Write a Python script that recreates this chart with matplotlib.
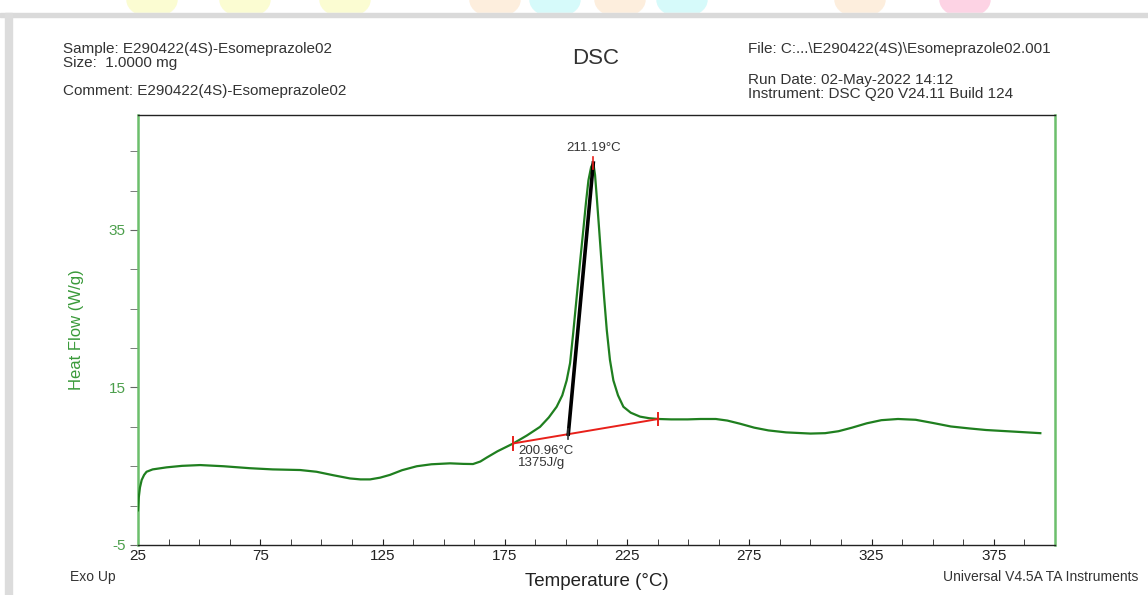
import numpy as np
import matplotlib
matplotlib.use("Agg")
import matplotlib.pyplot as plt
from matplotlib.patches import Rectangle, Ellipse
from matplotlib.ticker import MultipleLocator, FixedLocator

plt.rcParams['font.family'] = ['Liberation Sans', 'DejaVu Sans']
plt.rcParams['axes.unicode_minus'] = False

# DSC curve: temperature (°C) and heat flow (W/g)
temp = [25.0, 25.3, 25.8, 26.5, 27.5, 28.5, 31, 36.7, 43, 50.4, 60, 70.8, 80, 91.3,
        98, 105, 111.7, 116, 119.9, 124, 128, 133, 139, 145, 152.6, 158, 162, 165,
        167.6, 172, 178.5, 184, 189.4, 193, 196.2, 198.5, 200.3, 201.7, 203, 204.4,
        205.8, 207.1, 208.2, 209.2, 210.3, 211.2, 211.9, 212.6, 213.6, 214.6, 215.6,
        216.7, 218, 219.4, 221.3, 223.5, 226.5, 230.3, 234, 237.8, 243, 249.8, 255,
        261.3, 266, 271.2, 277, 282.8, 290, 300, 306, 311.5, 317, 323, 329, 335.8,
        343, 350, 357.4, 365, 371.8, 383, 394]
heat_flow = [-0.6, 1.0, 2.3, 3.25, 3.9, 4.3, 4.6, 4.86, 5.05, 5.15, 5.0, 4.75, 4.6, 4.52,
             4.3, 3.85, 3.45, 3.33, 3.33, 3.55, 3.9, 4.5, 5.0, 5.25, 5.37, 5.3, 5.28, 5.6,
             6.1, 6.9, 7.9, 8.9, 10.0, 11.2, 12.55, 14.0, 15.9, 18.1, 22.0, 26.5,
             31.0, 35.0, 38.5, 41.3, 43.0, 43.5, 42.0, 39.2, 35.0, 30.7, 26.5,
             22.3, 18.5, 15.9, 14.0, 12.55, 11.8, 11.3, 11.1, 11.0, 10.95, 10.95, 11.0,
             11.0, 10.8, 10.4, 9.9, 9.55, 9.3, 9.15, 9.2, 9.45, 9.9, 10.45, 10.85, 11.0,
             10.9, 10.5, 10.05, 9.8, 9.6, 9.4, 9.2]

# peak integration
baseline_t = [178.5, 237.8]
baseline_hf = [7.9, 11.0]
onset_t, onset_hf = 200.96, 9.07
peak_t, peak_hf = 211.19, 43.5
enthalpy = "1375J/g"

x_labels = [25, 75, 125, 175, 225, 275, 325, 375]
y_labels = [-5, 15, 35]

W, H = 1148, 595
fig = plt.figure(figsize=(W / 100, H / 100), dpi=100)

# page frame and faint watermark at the top
wm = [(152, '#fbfcd2'), (245, '#fbfcd2'), (345, '#fbfcd2'), (495, '#fdeedd'),
      (555, '#d6fafa'), (620, '#fdeedd'), (682, '#d6fafa'), (860, '#fdeedd'),
      (965, '#fdd3e4')]
for cx, c in wm:
    fig.patches.append(Ellipse((cx / W, 1.0), 50 / W, 34 / H, transform=fig.transFigure,
                               color=c, zorder=-3))
fig.patches.append(Rectangle((0, 0), 1, 1 - 13 / H, transform=fig.transFigure,
                             color='white', zorder=-2))
fig.patches.append(Rectangle((0, 1 - 17 / H), 1, 4 / H, transform=fig.transFigure,
                             color='#dadada', zorder=-1))
fig.patches.append(Rectangle((5 / W, 0), 7 / W, 1 - 13 / H, transform=fig.transFigure,
                             color='#dcdcdc', zorder=-1))

ax = fig.add_axes([138 / W, 1 - 545 / H, (1055 - 138) / W, (545 - 115) / H])
ax.set_zorder(2)
ax.set_xlim(25, 400)
ax.set_ylim(-5, 49.6)

ax.plot(temp, heat_flow, color='#1f7f1f', lw=1.6, zorder=3)
ax.plot(baseline_t, baseline_hf, color='#e8201a', lw=1.4, zorder=4)
ax.plot([onset_t, peak_t], [onset_hf, peak_hf], color='black', lw=2.6, zorder=5)
for t, h in zip(baseline_t, baseline_hf):
    ax.plot([t, t], [h - 0.8, h + 0.8], color='#e8201a', lw=1.4, zorder=4)
ax.plot([peak_t, peak_t], [peak_hf - 0.8, peak_hf + 0.8], color='#e8201a', lw=1.2, zorder=6)
ax.plot([onset_t, onset_t], [onset_hf - 0.6, onset_hf + 0.6], color='#333333', lw=1.2, zorder=6)

ax.text(peak_t, peak_hf + 1.2, f"{peak_t:.2f}°C", ha='center', va='bottom',
        fontsize=9.5, color='#333333')
ax.text(180.5, onset_hf - 1.4, f"{onset_t:.2f}°C\n{enthalpy}", ha='left', va='top',
        fontsize=9.5, color='#333333', linespacing=0.95)

ax.xaxis.set_major_locator(FixedLocator(x_labels))
ax.xaxis.set_minor_locator(MultipleLocator(12.5))
ax.yaxis.set_major_locator(FixedLocator(y_labels))
ax.yaxis.set_minor_locator(MultipleLocator(5))
ax.tick_params(axis='x', which='both', direction='in', length=4, color='#222222',
               labelsize=11, labelcolor='#222222', pad=3)
ax.tick_params(axis='y', which='both', direction='out', length=6, color='#666666',
               labelsize=11, labelcolor='#4c9f4c', pad=3)

ax.spines['left'].set_color('#6cbf6c')
ax.spines['left'].set_linewidth(1.8)
ax.spines['right'].set_color('#6cbf6c')
ax.spines['right'].set_linewidth(1.8)
ax.spines['top'].set_color('#222222')
ax.spines['top'].set_linewidth(1.0)
ax.spines['bottom'].set_color('#222222')
ax.spines['bottom'].set_linewidth(1.0)

ax.set_ylabel("Heat Flow (W/g)", color='#3a9a3a', fontsize=12, labelpad=18)
ax.set_xlabel("Temperature (°C)", color='#222222', fontsize=13.5, labelpad=7)

# header text
hc = '#333333'
fs = 11
fig.text(63 / W, 1 - 49 / H, "Sample: E290422(4S)-Esomeprazole02", fontsize=fs, color=hc, va='center')
fig.text(63 / W, 1 - 63 / H, "Size:  1.0000 mg", fontsize=fs, color=hc, va='center')
fig.text(63 / W, 1 - 91 / H, "Comment: E290422(4S)-Esomeprazole02", fontsize=fs, color=hc, va='center')
fig.text(596 / W, 1 - 59 / H, "DSC", fontsize=16, color=hc, va='center', ha='center')
fig.text(748 / W, 1 - 49 / H, "File: C:...\\E290422(4S)\\Esomeprazole02.001", fontsize=fs, color=hc, va='center')
fig.text(748 / W, 1 - 80 / H, "Run Date: 02-May-2022 14:12", fontsize=fs, color=hc, va='center')
fig.text(748 / W, 1 - 94 / H, "Instrument: DSC Q20 V24.11 Build 124", fontsize=fs, color=hc, va='center')
fig.text(70 / W, 1 - 577 / H, "Exo Up", fontsize=10, color=hc, va='center')
fig.text(943 / W, 1 - 577 / H, "Universal V4.5A TA Instruments", fontsize=10, color=hc, va='center')

fig.savefig("out.png", dpi=100)
